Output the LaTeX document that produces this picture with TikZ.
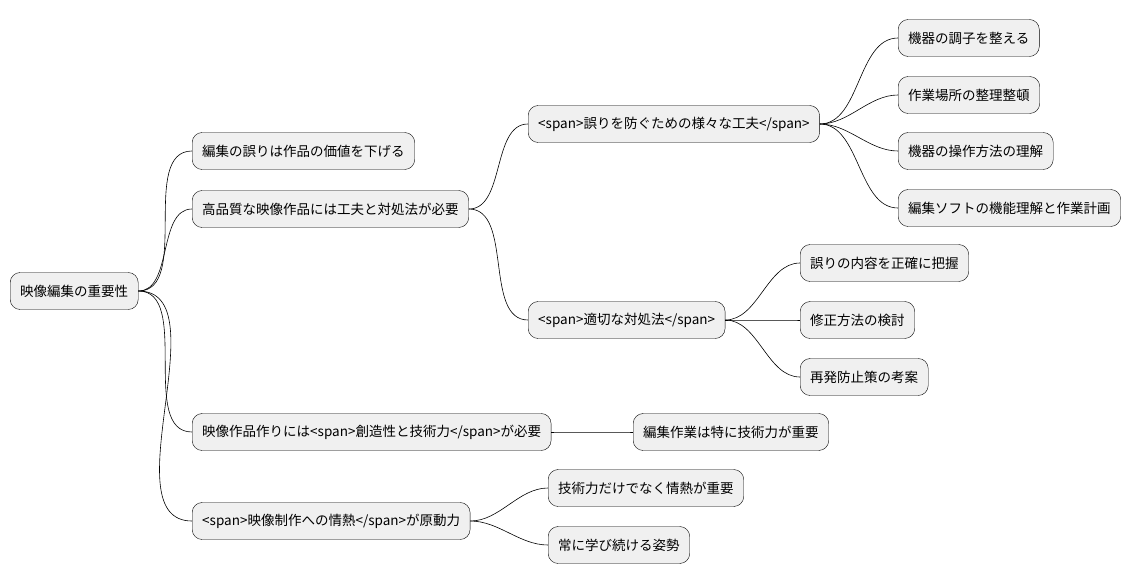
\documentclass[tikz,border=0pt]{standalone}
\usepackage{fontspec}
\setmainfont{Noto Sans CJK JP}
\usetikzlibrary{positioning}

\tikzset{
  topic/.style={draw=black, fill=black!6, rounded corners=10pt, anchor=west,
    minimum height=37pt, inner xsep=10pt, font=\fontsize{13.5}{16}\selectfont},
  link/.style={draw=black, line width=.6pt, out=0, in=180, looseness=.9}
}

\begin{document}
\begin{tikzpicture}[x=1pt, y=-1pt]
\useasboundingbox (0,0) rectangle (1139,583);
% root
\node[topic] (root) at (10,291) {映像編集の重要性};
% first level
\node[topic] (errvalue) at (192,151) {編集の誤りは作品の価値を下げる};
\node[topic] (quality) at (192,209) {高品質な映像作品には工夫と対処法が必要};
\node[topic] (making) at (192,432) {映像作品作りには<span>創造性と技術力</span>が必要};
\node[topic] (passion) at (192,521) {<span>映像制作への情熱</span>が原動力};
% second level
\node[topic] (prevent) at (528,124) {<span>誤りを防ぐための様々な工夫</span>};
\node[topic] (handle) at (528,320) {<span>適切な対処法</span>};
\node[topic] (skill) at (633,432) {編集作業は特に技術力が重要};
\node[topic] (heart) at (548,488) {技術力だけでなく情熱が重要};
\node[topic] (learn) at (548,545) {常に学び続ける姿勢};
% third level
\node[topic] (tune) at (898,38) {機器の調子を整える};
\node[topic] (tidy) at (898,95) {作業場所の整理整頓};
\node[topic] (operate) at (898,151) {機器の操作方法の理解};
\node[topic] (software) at (898,208) {編集ソフトの機能理解と作業計画};
\node[topic] (grasp) at (800,263) {誤りの内容を正確に把握};
\node[topic] (fix) at (800,320) {修正方法の検討};
\node[topic] (recur) at (800,377) {再発防止策の考案};
% links
\foreach \a/\b in {root/errvalue, root/quality, root/making, root/passion,
    quality/prevent, quality/handle, making/skill, passion/heart, passion/learn,
    prevent/tune, prevent/tidy, prevent/operate, prevent/software,
    handle/grasp, handle/fix, handle/recur}
  \draw[link] (\a.east) to (\b.west);
\end{tikzpicture}
\end{document}
